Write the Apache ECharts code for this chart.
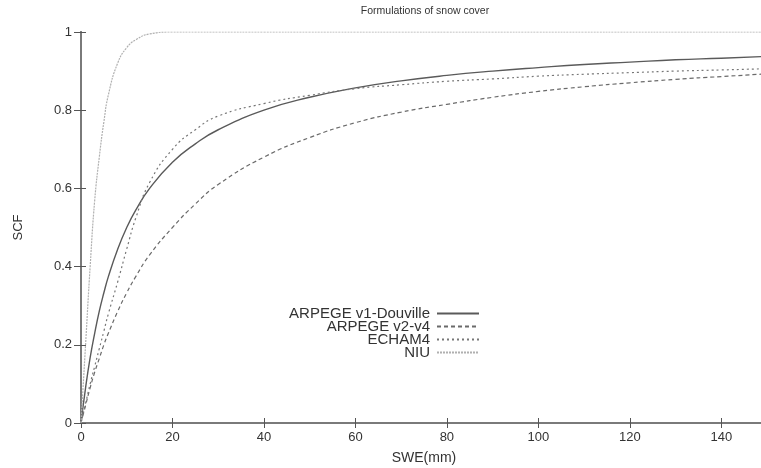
<!DOCTYPE html>
<html>
<head>
<meta charset="utf-8">
<script src="https://cdn.jsdelivr.net/npm/echarts@6/dist/echarts.min.js"></script>
<style>
  html, body { margin: 0; padding: 0; background: #fff; }
  #chart { width: 761px; height: 468px; }
</style>
</head>
<body>
<div id="chart"></div>
<script>
// Snow water equivalent (mm) sample points
const swe = [0, 1, 2, 3, 4, 5, 6, 8, 10, 12, 15, 20, 25, 30, 40, 50, 60, 70, 80, 90, 100, 110, 120, 130, 140, 150];

// Snow cover fraction for each formulation
const arpegeV1 = [0, 0.09, 0.167, 0.23, 0.286, 0.333, 0.375, 0.444, 0.5, 0.545, 0.6, 0.667, 0.714, 0.75, 0.8, 0.833, 0.857, 0.875, 0.889, 0.9, 0.909, 0.917, 0.923, 0.929, 0.933, 0.9375];
const arpegeV2 = [0, 0.045, 0.09, 0.13, 0.165, 0.2, 0.23, 0.285, 0.333, 0.375, 0.43, 0.50, 0.56, 0.61, 0.68, 0.73, 0.768, 0.795, 0.815, 0.833, 0.848, 0.86, 0.87, 0.879, 0.886, 0.893];
const echam4   = [0, 0.05, 0.1, 0.145, 0.19, 0.235, 0.28, 0.36, 0.445, 0.525, 0.615, 0.70, 0.75, 0.785, 0.817, 0.838, 0.855, 0.865, 0.874, 0.88, 0.887, 0.892, 0.896, 0.9, 0.903, 0.906];
const niu      = [0, 0.2, 0.4, 0.57, 0.68, 0.77, 0.84, 0.92, 0.96, 0.98, 0.995, 1, 1, 1, 1, 1, 1, 1, 1, 1, 1, 1, 1, 1, 1, 1];

const seriesNames = ['ARPEGE v1-Douville', 'ARPEGE v2-v4', 'ECHAM4', 'NIU'];
const xTicks = [0, 20, 40, 60, 80, 100, 120, 140];

const pairs = vals => swe.map((x, i) => [x, vals[i]]);

const font = 'Liberation Sans, Arial, sans-serif';
const axisColor = '#7a7a7a';

function lineSeries(name, vals, color, width, type) {
  return {
    name: name,
    type: 'line',
    smooth: true,
    symbol: 'none',
    data: pairs(vals),
    lineStyle: { color: color, width: width, type: type },
    itemStyle: { color: color },
    emphasis: { disabled: true }
  };
}

const chart = echarts.init(document.getElementById('chart'), null, { renderer: 'canvas' });
chart.setOption({
  animation: false,
  backgroundColor: '#fff',
  title: {
    text: 'Formulations of snow cover',
    left: 420, top: 1, textAlign: 'center',
    textStyle: { fontFamily: font, fontSize: 10.5, fontWeight: 'normal', color: '#333' }
  },
  grid: { left: 81, right: -6, top: 32, bottom: 45, outerBoundsMode: 'none', containLabel: false },
  legend: {
    orient: 'vertical',
    align: 'right',
    left: 275, top: 301,
    itemWidth: 42, itemHeight: 10, itemGap: -2,
    itemStyle: { opacity: 0 },
    data: seriesNames,
    textStyle: { fontFamily: font, fontSize: 15, lineHeight: 13, color: '#333', width: 150, align: 'right', padding: [0, 2, 0, 0] }
  },
  xAxis: [{
    type: 'value', min: 0, max: 150, interval: 20,
    name: 'SWE(mm)', nameLocation: 'middle', nameGap: 28,
    nameTextStyle: { fontFamily: font, fontSize: 14, color: '#333' },
    axisLine: { lineStyle: { color: axisColor, width: 2 } },
    axisTick: { inside: true, length: 5, lineStyle: { color: '#555' }, customValues: xTicks },
    axisLabel: { fontFamily: font, fontSize: 13, color: '#333', margin: 8, customValues: xTicks },
    splitLine: { show: false }
  }, {
    type: 'value', min: 0, max: 150, interval: 20, position: 'top',
    axisLine: { lineStyle: { color: axisColor, width: 2 } },
    axisTick: { inside: true, length: 5, lineStyle: { color: '#555' }, customValues: xTicks },
    axisLabel: { show: false },
    splitLine: { show: false }
  }],
  yAxis: [{
    type: 'value', min: 0, max: 1, interval: 0.2,
    name: 'SCF', nameLocation: 'middle', nameGap: 56, nameRotate: 90,
    nameTextStyle: { fontFamily: font, fontSize: 13, color: '#333' },
    axisLine: { show: true, lineStyle: { color: axisColor, width: 2 } },
    axisTick: { show: true, inside: true, length: 5, lineStyle: { color: '#555' } },
    axisLabel: { fontFamily: font, fontSize: 13, color: '#333', margin: 9,
      formatter: v => String(Math.round(v * 10) / 10) },
    splitLine: { show: false }
  }, {
    type: 'value', min: 0, max: 1, interval: 0.2, position: 'right',
    axisLine: { show: true, lineStyle: { color: axisColor, width: 2 } },
    axisTick: { show: true, inside: true, length: 7, lineStyle: { color: '#555' } },
    axisLabel: { show: false },
    splitLine: { show: false }
  }],
  series: [
    lineSeries(seriesNames[0], arpegeV1, '#5a5a5a', 1.4, 'solid'),
    lineSeries(seriesNames[1], arpegeV2, '#6a6a6a', 1.2, [4, 3]),
    lineSeries(seriesNames[2], echam4, '#777777', 1.2, [2, 3]),
    lineSeries(seriesNames[3], niu, '#b0b0b0', 1.2, [2, 1])
  ]
});
</script>
</body>
</html>
